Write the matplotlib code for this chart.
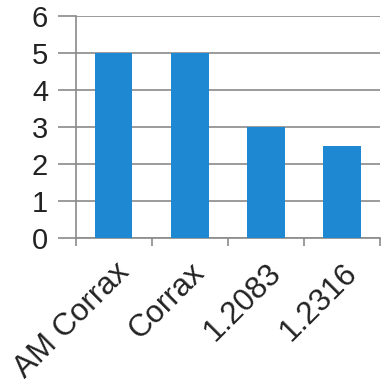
import matplotlib
matplotlib.use("Agg")
import matplotlib.pyplot as plt
import numpy as np

categories = ["AM Corrax", "Corrax", "1.2083", "1.2316"]
values = [5, 5, 3, 2.5]
yticks = [0, 1, 2, 3, 4, 5, 6]

plt.rcParams['font.family'] = ['Liberation Sans', 'DejaVu Sans']
fig = plt.figure(figsize=(3.85, 3.86), dpi=100)
ax = fig.add_axes([0.197, 0.383, 0.790, 0.5755])

x = np.arange(len(categories))
ax.bar(x, values, width=0.49, color="#1f88d2", zorder=3)
ax.set_xlim(-0.5, len(categories) - 0.5)
ax.set_ylim(0, 6)
ax.set_yticks(yticks)
ax.set_yticklabels([str(t) for t in yticks], fontsize=21, color="#222222")
ax.yaxis.grid(True, color="#8a8a8a", linewidth=1.2, zorder=0)
ax.tick_params(axis='y', length=13, width=1.2, color="#8a8a8a", pad=7)

ax.set_xticks(x)
ax.set_xticklabels(categories, rotation=45, ha='right', va='top',
                   rotation_mode='anchor', fontsize=22.5, color="#222222")
ax.tick_params(axis='x', length=0, pad=14)
ax.set_xticks(np.arange(-0.5, len(categories)), minor=True)
ax.tick_params(axis='x', which='minor', length=6, width=1.2, color="#8a8a8a")

for s in ['top', 'right']:
    ax.spines[s].set_visible(False)
for s in ['left', 'bottom']:
    ax.spines[s].set_color("#8a8a8a")
    ax.spines[s].set_linewidth(1.2)

fig.savefig("out.png", dpi=100)
